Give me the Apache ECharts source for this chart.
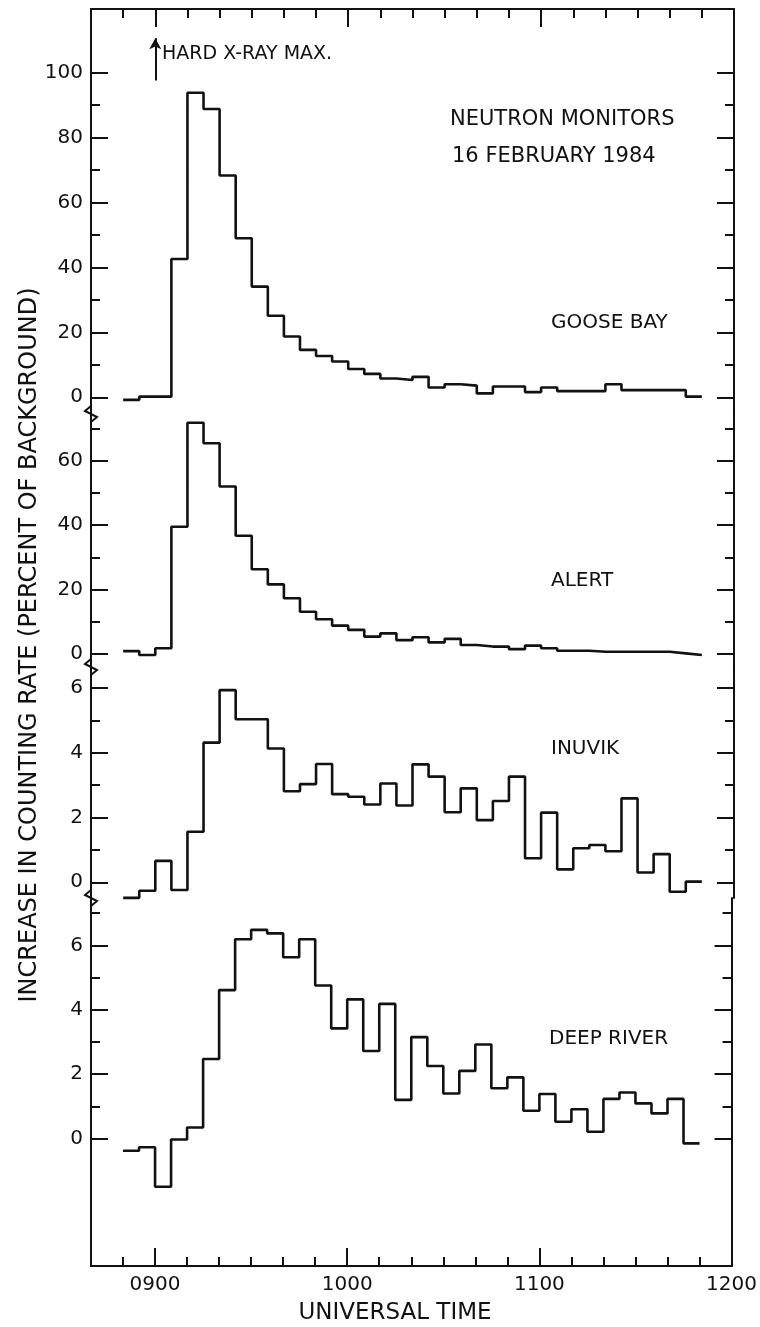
<!DOCTYPE html>
<html>
<head>
<meta charset="utf-8">
<script src="https://cdn.jsdelivr.net/npm/echarts@6/dist/echarts.min.js"></script>
<style>
  html, body { margin: 0; padding: 0; background: #fff; }
  #chart { width: 760px; height: 1327px; }
</style>
</head>
<body>
<div id="chart"></div>
<script>
// bin start times, minutes after midnight (5 min bins, 0850 .. 1145)
var binStarts = [530, 535, 540, 545, 550, 555, 560, 565, 570, 575, 580, 585,
                 590, 595, 600, 605, 610, 615, 620, 625, 630, 635, 640, 645,
                 650, 655, 660, 665, 670, 675, 680, 685, 690, 695, 700, 705];
var binEnd = 710;

// percent increase over background
var gooseBay = [-0.8, 0.2, 0.2, 42.6, 93.8, 88.8, 68.3, 49.0, 34.1, 25.1, 18.7, 14.6,
                12.7, 11.0, 8.7, 7.2, 5.8, 5.3, 6.3, 3.0, 4.0, 3.6, 1.2, 3.3,
                3.3, 1.6, 3.0, 1.9, 1.9, 1.9, 4.0, 2.2, 2.2, 2.2, 2.2, 0.2];
var alertSt = [0.9, -0.3, 1.8, 39.5, 71.8, 65.4, 52.0, 36.7, 26.3, 21.6, 17.3, 13.1,
               10.8, 8.8, 7.5, 5.4, 6.4, 4.3, 5.2, 3.6, 4.7, 2.8, 2.3, 2.3,
               1.5, 2.6, 1.8, 1.0, 1.0, 0.7, 0.7, 0.7, 0.7, 0.7, 0.2, -0.3];
var inuvik = [-0.48, -0.26, 0.66, -0.24, 1.56, 4.31, 5.93, 5.03, 5.03, 4.13, 2.81, 3.03,
              3.65, 2.72, 2.64, 2.40, 3.05, 2.37, 3.64, 3.26, 2.16, 2.90, 1.92, 2.51,
              3.26, 0.74, 2.15, 0.40, 1.05, 1.15, 0.96, 2.59, 0.30, 0.87, -0.29, 0.02];
var deepRiver = [-0.38, -0.27, -1.5, -0.03, 0.34, 2.47, 4.61, 6.19, 6.48, 6.37, 5.63, 6.19,
                 4.75, 3.42, 4.32, 2.72, 4.18, 1.20, 3.15, 2.25, 1.40, 2.10, 2.92, 1.56,
                 1.90, 0.86, 1.38, 0.52, 0.91, 0.21, 1.23, 1.43, 1.09, 0.78, 1.23, -0.15];

var stations = ['GOOSE BAY', 'ALERT', 'INUVIK', 'DEEP RIVER'];

// tick values
var xMajor = [540, 600, 660, 720];
var xMinor = [530, 550, 560, 570, 580, 590, 610, 620, 630, 640, 650, 670, 680, 690, 700, 710];
var yMajor = [[0, 20, 40, 60, 80, 100], [0, 20, 40, 60], [0, 2, 4, 6], [0, 2, 4, 6]];
var yMinor = [[10, 30, 50, 70, 90], [10, 30, 50, 70], [1, 3, 5], [1, 3, 5, 7]];

// hard x-ray maximum marker
var xrayTime = 540;
var xrayArrow = [97.6, 110.6];

// panel layout (px) and y ranges
var panelTop = [9, 414, 667, 898];
var panelHeight = [405, 253, 231, 368];
var panelRange = [[-5.15, 119.6], [-4.04, 74.5], [-0.485, 6.645], [-3.96, 7.47]];
var series_vals = [gooseBay, alertSt, inuvik, deepRiver];

var INK = '#111';
var FONT = 'DejaVu Sans';

function hhmm(v) {
  var h = Math.floor(v / 60), m = v % 60;
  return (h < 10 ? '0' : '') + h + (m < 10 ? '0' : '') + m;
}

var grids = [], xAxes = [], yAxes = [], series = [];
var xIdx = [];

for (var i = 0; i < 4; i++) {
  grids.push({left: 91, right: 26, top: panelTop[i], height: panelHeight[i]});

  // main x axis for this grid
  var edge = (i === 0 || i === 3);
  xIdx.push(xAxes.length);
  xAxes.push({
    type: 'value', gridIndex: i, min: 520, max: 720,
    show: edge,
    position: i === 0 ? 'top' : 'bottom',
    axisLine: {show: true, onZero: false, lineStyle: {color: INK, width: 2}},
    axisTick: {show: true, inside: true, length: 18, customValues: xMajor, lineStyle: {color: INK, width: 2}},
    axisLabel: {show: i === 3, customValues: xMajor, formatter: hhmm, color: INK,
                fontFamily: FONT, fontSize: 20, margin: 9},
    splitLine: {show: false}
  });
  if (edge) {
    xAxes.push({
      type: 'value', gridIndex: i, min: 520, max: 720,
      position: i === 0 ? 'top' : 'bottom',
      axisLine: {show: false, onZero: false},
      axisTick: {show: true, inside: true, length: 9, customValues: xMinor, lineStyle: {color: INK, width: 2}},
      axisLabel: {show: false},
      splitLine: {show: false}
    });
  }

  var r = panelRange[i];
  var base = yAxes.length;
  ['left', 'right'].forEach(function (pos) {
    yAxes.push({
      type: 'value', gridIndex: i, min: r[0], max: r[1], position: pos,
      axisLine: {show: true, onZero: false, lineStyle: {color: INK, width: 2}},
      axisTick: {show: true, inside: true, length: 17, customValues: yMajor[i], lineStyle: {color: INK, width: 2}},
      axisLabel: {show: pos === 'left', customValues: yMajor[i], color: INK,
                  fontFamily: FONT, fontSize: 20, margin: 8},
      splitLine: {show: false}
    });
    yAxes.push({
      type: 'value', gridIndex: i, min: r[0], max: r[1], position: pos,
      axisLine: {show: false, onZero: false},
      axisTick: {show: true, inside: true, length: 9, customValues: yMinor[i], lineStyle: {color: INK, width: 2}},
      axisLabel: {show: false},
      splitLine: {show: false}
    });
  });

  var vals = series_vals[i];
  var data = binStarts.map(function (t, k) { return [t, vals[k]]; });
  data.push([binEnd, vals[vals.length - 1]]);

  var s = {
    name: stations[i], type: 'line', step: 'end',
    xAxisIndex: xIdx[i], yAxisIndex: base,
    symbol: 'none', clip: false, data: data,
    lineStyle: {color: INK, width: 2.6}
  };
  if (i === 0) {
    s.markLine = {
      silent: true, symbol: ['none', 'arrow'], symbolSize: [9, 11],
      lineStyle: {color: INK, width: 2, type: 'solid'},
      label: {show: false},
      data: [[{coord: [xrayTime, xrayArrow[0]]}, {coord: [xrayTime, xrayArrow[1]]}]]
    };
  }
  series.push(s);
}

function txt(x, y, text, size, align) {
  return {
    type: 'text', x: x, y: y, silent: true,
    style: {text: text, fill: INK, font: size + 'px "' + FONT + '"',
            textAlign: align || 'left', textVerticalAlign: 'middle'}
  };
}
function brk(y) {
  return {
    type: 'polyline', silent: true,
    shape: {points: [[91, y - 8], [85, y - 3], [97, y + 3], [91, y + 8]]},
    style: {stroke: INK, lineWidth: 2, fill: null}
  };
}

var graphics = [
  txt(162, 54, 'HARD X-RAY MAX.', 19),
  txt(450, 120, 'NEUTRON MONITORS', 21),
  txt(452, 157, '16 FEBRUARY 1984', 21),
  txt(551, 323, stations[0], 20),
  txt(551, 581, stations[1], 20),
  txt(551, 749, stations[2], 20),
  txt(549, 1039, stations[3], 20),
  txt(395, 1313, 'UNIVERSAL TIME', 23, 'center'),
  {
    type: 'text', x: 30, y: 645, rotation: Math.PI / 2, silent: true,
    style: {text: 'INCREASE IN COUNTING RATE (PERCENT OF BACKGROUND)', fill: INK,
            font: '24px "' + FONT + '"', textAlign: 'center', textVerticalAlign: 'middle'}
  },
  brk(414), brk(667), brk(898)
];

var chart = echarts.init(document.getElementById('chart'));
chart.setOption({
  animation: false,
  backgroundColor: '#fff',
  grid: grids,
  xAxis: xAxes,
  yAxis: yAxes,
  series: series,
  graphic: graphics
});
</script>
</body>
</html>
